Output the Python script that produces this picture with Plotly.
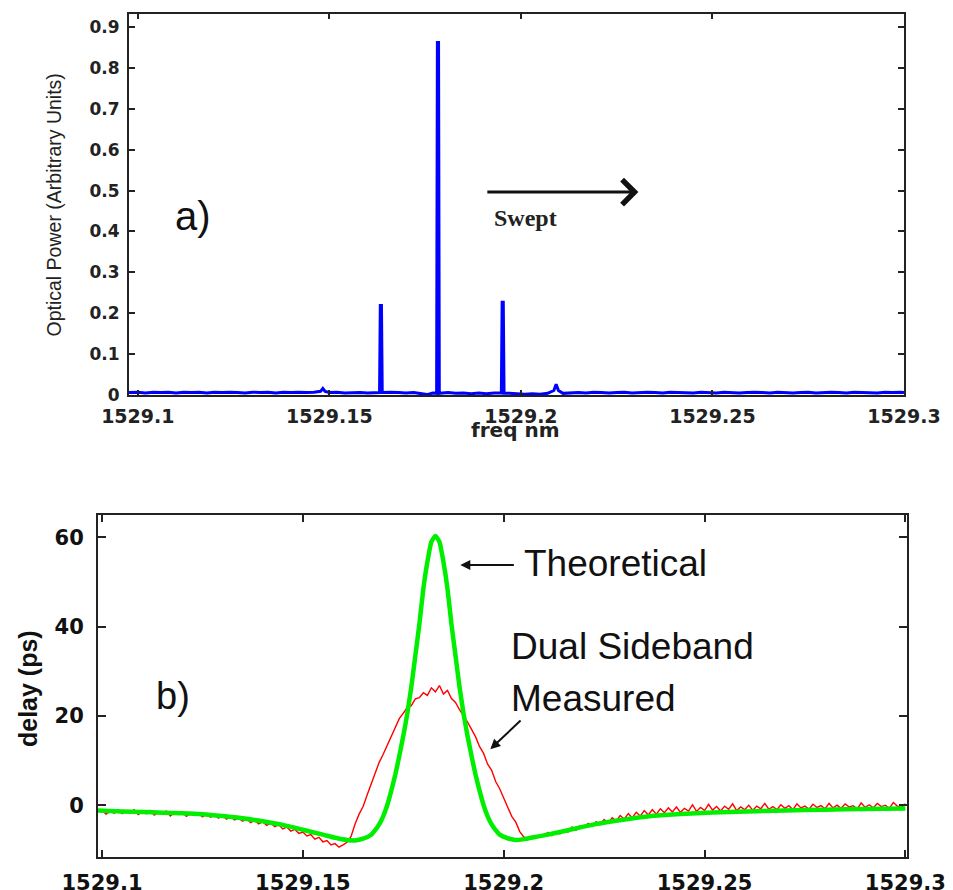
import plotly.graph_objects as go

# ---------------- Panel a) optical spectrum ----------------
spec_nm = [1529.0977, 1529.100, 1529.102, 1529.104, 1529.106, 1529.108, 1529.110, 1529.112, 1529.114, 1529.116,
           1529.118, 1529.120, 1529.122, 1529.124, 1529.126, 1529.128, 1529.130, 1529.132, 1529.134, 1529.136,
           1529.138, 1529.140, 1529.142, 1529.144, 1529.146, 1529.1477, 1529.1483, 1529.1489, 1529.150, 1529.152,
           1529.154, 1529.156, 1529.158, 1529.160, 1529.162, 1529.1631, 1529.1633, 1529.1636, 1529.1638, 1529.166,
           1529.168, 1529.170, 1529.172, 1529.174, 1529.1755, 1529.177, 1529.1780, 1529.1782, 1529.1785, 1529.1787,
           1529.181, 1529.183, 1529.185, 1529.187, 1529.189, 1529.191, 1529.193, 1529.1949, 1529.1951, 1529.1954,
           1529.1956, 1529.197, 1529.199, 1529.201, 1529.203, 1529.205, 1529.207, 1529.2086, 1529.2092, 1529.2098,
           1529.211, 1529.213, 1529.215, 1529.217, 1529.219, 1529.221, 1529.223, 1529.225, 1529.227, 1529.229,
           1529.231, 1529.233, 1529.235, 1529.237, 1529.239, 1529.241, 1529.243, 1529.245, 1529.247, 1529.249,
           1529.251, 1529.253, 1529.255, 1529.257, 1529.259, 1529.261, 1529.263, 1529.265, 1529.267, 1529.269,
           1529.271, 1529.273, 1529.275, 1529.277, 1529.279, 1529.281, 1529.283, 1529.285, 1529.287, 1529.289,
           1529.291, 1529.293, 1529.295, 1529.297, 1529.299, 1529.300]
spec_power = [0.006, 0.007, 0.005, 0.007, 0.006, 0.007, 0.005, 0.007, 0.006, 0.007,
              0.005, 0.007, 0.006, 0.007, 0.006, 0.005, 0.007, 0.006, 0.007, 0.005,
              0.007, 0.006, 0.007, 0.006, 0.007, 0.009, 0.016, 0.009, 0.006, 0.007,
              0.005, 0.006, 0.006, 0.005, 0.006, 0.006, 0.219, 0.219, 0.006, 0.007,
              0.006, 0.005, 0.006, 0.004, 0.001, 0.005, 0.004, 0.862, 0.862, 0.004,
              0.006, 0.004, 0.005, 0.003, 0.005, 0.003, 0.005, 0.005, 0.227, 0.227,
              0.004, 0.004, 0.003, 0.002, 0.003, 0.002, 0.004, 0.011, 0.026, 0.011,
              0.004, 0.005, 0.006, 0.005, 0.007, 0.006, 0.005, 0.006, 0.007, 0.005,
              0.006, 0.007, 0.006, 0.005, 0.007, 0.006, 0.006, 0.005, 0.007, 0.006,
              0.005, 0.007, 0.006, 0.005, 0.006, 0.007, 0.006, 0.005, 0.007, 0.006,
              0.005, 0.006, 0.007, 0.005, 0.006, 0.007, 0.006, 0.005, 0.007, 0.006,
              0.006, 0.005, 0.007, 0.006, 0.007, 0.006]

a_xticks = [1529.1, 1529.15, 1529.2, 1529.25, 1529.3]
a_xticklabels = ["1529.1", "1529.15", "1529.2", "1529.25", "1529.3"]
a_yticks = [0, 0.1, 0.2, 0.3, 0.4, 0.5, 0.6, 0.7, 0.8, 0.9]
a_yticklabels = ["0", "0.1", "0.2", "0.3", "0.4", "0.5", "0.6", "0.7", "0.8", "0.9"]

# ---------------- Panel b) group delay ----------------
theory_nm = [1529.099, 1529.105, 1529.110, 1529.115, 1529.120, 1529.125, 1529.130, 1529.135, 1529.140, 1529.145,
             1529.150, 1529.155, 1529.158, 1529.161, 1529.163, 1529.165, 1529.167, 1529.168, 1529.169, 1529.170,
             1529.171, 1529.172, 1529.173, 1529.174, 1529.175, 1529.176, 1529.177, 1529.178, 1529.179, 1529.180,
             1529.181, 1529.182, 1529.183, 1529.184, 1529.185, 1529.186, 1529.187, 1529.188, 1529.189, 1529.190,
             1529.191, 1529.192, 1529.193, 1529.194, 1529.195, 1529.196, 1529.197, 1529.198, 1529.199, 1529.201,
             1529.203, 1529.205, 1529.208, 1529.212, 1529.216, 1529.222, 1529.228, 1529.234, 1529.240, 1529.248,
             1529.256, 1529.265, 1529.275, 1529.285, 1529.300]
theory_delay = [-1.2, -1.4, -1.5, -1.7, -1.8, -2.0, -2.4, -2.9, -3.6, -4.4,
                -5.5, -6.6, -7.3, -7.8, -7.9, -7.5, -6.6, -5.6, -4.3, -2.5,
                0.0, 3.2, 6.8, 11.0, 15.5, 20.5, 26.5, 33.5, 40.5, 48.5,
                54.5, 59.0, 60.3, 59.0, 54.5, 48.5, 40.5, 33.5, 26.5, 20.5,
                15.5, 11.0, 6.8, 3.2, 0.0, -2.5, -4.3, -5.6, -6.6, -7.4,
                -7.8, -7.6, -7.1, -6.4, -5.6, -4.4, -3.5, -2.7, -2.2, -1.8,
                -1.5, -1.3, -1.1, -0.9, -0.75]

measured_nm = [
    1529.100, 1529.101, 1529.102, 1529.103, 1529.104, 1529.105, 1529.106, 1529.107, 1529.108, 1529.109,
    1529.110, 1529.111, 1529.112, 1529.113, 1529.114, 1529.115, 1529.116, 1529.117, 1529.118, 1529.119,
    1529.120, 1529.121, 1529.122, 1529.123, 1529.124, 1529.125, 1529.126, 1529.127, 1529.128, 1529.129,
    1529.130, 1529.131, 1529.132, 1529.133, 1529.134, 1529.135, 1529.136, 1529.137, 1529.138, 1529.139,
    1529.140, 1529.141, 1529.142, 1529.143, 1529.144, 1529.145, 1529.146, 1529.147, 1529.148, 1529.149,
    1529.150, 1529.151, 1529.152, 1529.153, 1529.154, 1529.155, 1529.156, 1529.157, 1529.158, 1529.159,
    1529.160, 1529.161, 1529.162, 1529.163, 1529.164, 1529.165, 1529.166, 1529.167, 1529.168, 1529.169,
    1529.170, 1529.171, 1529.172, 1529.173, 1529.174, 1529.175, 1529.176, 1529.177, 1529.178, 1529.179,
    1529.180, 1529.181, 1529.182, 1529.183, 1529.184, 1529.185, 1529.186, 1529.187, 1529.188, 1529.189,
    1529.190, 1529.191, 1529.192, 1529.193, 1529.194, 1529.195, 1529.196, 1529.197, 1529.198, 1529.199,
    1529.200, 1529.201, 1529.202, 1529.203, 1529.204, 1529.205, 1529.206, 1529.207, 1529.208, 1529.209,
    1529.210, 1529.211, 1529.212, 1529.213, 1529.214, 1529.215, 1529.216, 1529.217, 1529.218, 1529.219,
    1529.220, 1529.221, 1529.222, 1529.223, 1529.224, 1529.225, 1529.226, 1529.227, 1529.228, 1529.229,
    1529.230, 1529.231, 1529.232, 1529.233, 1529.234, 1529.235, 1529.236, 1529.237, 1529.238, 1529.239,
    1529.240, 1529.241, 1529.242, 1529.243, 1529.244, 1529.245, 1529.246, 1529.247, 1529.248, 1529.249,
    1529.250, 1529.251, 1529.252, 1529.253, 1529.254, 1529.255, 1529.256, 1529.257, 1529.258, 1529.259,
    1529.260, 1529.261, 1529.262, 1529.263, 1529.264, 1529.265, 1529.266, 1529.267, 1529.268, 1529.269,
    1529.270, 1529.271, 1529.272, 1529.273, 1529.274, 1529.275, 1529.276, 1529.277, 1529.278, 1529.279,
    1529.280, 1529.281, 1529.282, 1529.283, 1529.284, 1529.285, 1529.286, 1529.287, 1529.288, 1529.289,
    1529.290, 1529.291, 1529.292, 1529.293, 1529.294, 1529.295, 1529.296, 1529.297, 1529.298, 1529.299,
    1529.300]
measured_delay = [
    -1.2, -2.0, -1.4, -1.8, -1.1, -1.9, -1.3, -1.7, -1.0, -2.1,
    -1.5, -1.9, -1.2, -2.2, -1.6, -2.0, -1.3, -2.4, -1.7, -2.1,
    -1.6, -2.5, -1.9, -2.3, -1.8, -2.6, -2.0, -2.7, -2.2, -2.9,
    -2.3, -3.1, -2.6, -3.3, -2.9, -3.6, -3.1, -3.9, -3.4, -4.2,
    -3.7, -4.5, -4.0, -4.8, -4.4, -5.3, -4.9, -5.8, -5.4, -6.3,
    -6.0, -6.9, -6.6, -7.6, -7.2, -8.2, -7.9, -8.9, -8.6, -9.4,
    -8.9, -8.3, -7.0, -4.2, -2.0, -0.3, 2.3, 4.6, 6.9, 9.6,
    11.4, 13.5, 15.6, 17.3, 19.4, 20.6, 21.9, 22.3, 23.8, 24.1,
    25.2, 24.6, 26.3, 25.4, 26.8, 24.9, 25.7, 23.9, 23.0, 21.4,
    20.1, 18.6, 17.0, 15.3, 13.1, 11.6, 9.2, 7.8, 5.3, 3.7,
    1.6, -0.4, -2.5, -3.8, -5.9, -7.1, -7.7, -7.2, -7.4, -6.8,
    -6.9, -6.1, -6.8, -5.9, -6.4, -5.5, -6.0, -4.9, -5.6, -4.6,
    -5.0, -4.1, -4.8, -3.7, -4.3, -3.2, -4.0, -2.8, -3.5, -2.3,
    -3.1, -1.9, -2.8, -1.6, -2.4, -1.2, -2.2, -1.0, -2.0, -0.8,
    -1.7, -0.6, -1.5, -0.4, -1.6, -0.7, -1.3, 0.1, -1.4, -0.5,
    -1.2, 0.2, -1.1, -0.3, -1.3, -0.2, -0.9, 0.3, -1.2, -0.4,
    -1.0, 0.0, -1.1, -0.2, -0.8, 0.4, -0.9, -0.3, -1.0, 0.1,
    -0.7, -0.1, -1.0, 0.3, -0.6, -0.2, -0.9, 0.2, -0.5, -0.1,
    -0.8, 0.4, -0.6, 0.0, -0.7, 0.3, -0.4, -0.1, -0.8, 0.5,
    -0.5, 0.1, -0.6, 0.4, -0.3, 0.0, -0.7, 0.6, -0.2, -0.5,
    0.3]

b_xticks = [1529.1, 1529.15, 1529.2, 1529.25, 1529.3]
b_xticklabels = ["1529.1", "1529.15", "1529.2", "1529.25", "1529.3"]
b_yticks = [0, 20, 40, 60]
b_yticklabels = ["0", "20", "40", "60"]

W, H = 953, 890

fig = go.Figure()
fig.add_trace(go.Scatter(x=spec_nm, y=spec_power, mode="lines",
                         line=dict(color="#0000ff", width=3), xaxis="x", yaxis="y",
                         showlegend=False, hoverinfo="skip"))
fig.add_trace(go.Scatter(x=measured_nm, y=measured_delay, mode="lines",
                         line=dict(color="#ff0000", width=1.4), xaxis="x2", yaxis="y2",
                         showlegend=False, hoverinfo="skip"))
fig.add_trace(go.Scatter(x=theory_nm, y=theory_delay, mode="lines",
                         line=dict(color="#00ee00", width=4.5, shape="spline", smoothing=0.5),
                         xaxis="x2", yaxis="y2", showlegend=False, hoverinfo="skip"))

tick_font_a = dict(family="DejaVu Sans", size=19, color="#222222", weight="bold")
tick_font_a_y = dict(family="DejaVu Sans", size=17, color="#222222", weight="bold")
tick_font_b = dict(family="DejaVu Sans", size=21, color="#111111", weight="bold")

common = dict(showline=True, linecolor="#222222", linewidth=2, mirror="ticks",
              ticks="inside", tickcolor="#222222", tickwidth=1.5,
              showgrid=False, zeroline=False, automargin=False)

fig.update_layout(
    width=W, height=H,
    margin=dict(l=0, r=0, t=0, b=0),
    paper_bgcolor="white", plot_bgcolor="white",
    xaxis=dict(domain=[129 / W, 904 / W], anchor="y", range=[1529.0977, 1529.3],
               tickvals=a_xticks, ticktext=a_xticklabels, ticklen=5,
               tickfont=tick_font_a, ticklabelstandoff=3, **common),
    yaxis=dict(domain=[1 - 395 / H, 1 - 14 / H], anchor="x", range=[0, 0.932],
               tickvals=a_yticks, ticktext=a_yticklabels, ticklen=6,
               tickfont=tick_font_a_y, ticklabelstandoff=4, **common),
    xaxis2=dict(domain=[98 / W, 907 / W], anchor="y2", range=[1529.099, 1529.3004],
                tickvals=b_xticks, ticktext=b_xticklabels, ticklen=7,
                tickfont=tick_font_b, ticklabelstandoff=6, **common),
    yaxis2=dict(domain=[1 - 857 / H, 1 - 515 / H], anchor="x2", range=[-11.6, 65],
                tickvals=b_yticks, ticktext=b_yticklabels, ticklen=8,
                tickfont=tick_font_b, ticklabelstandoff=8, **common),
)

ann = []
# axis titles
ann.append(dict(text="Optical Power (Arbitrary Units)", xref="paper", yref="paper",
                x=54 / W, y=1 - 205.5 / H, textangle=-90, showarrow=False,
                xanchor="center", yanchor="middle",
                font=dict(family="Liberation Sans", size=19.5, color="#222222")))
ann.append(dict(text="freq nm", xref="paper", yref="paper",
                x=515 / W, y=1 - 430 / H, showarrow=False,
                xanchor="center", yanchor="middle",
                font=dict(family="DejaVu Sans", size=20, color="#222222", weight="bold")))
ann.append(dict(text="delay (ps)", xref="paper", yref="paper",
                x=27.5 / W, y=1 - 688.5 / H, textangle=-90, showarrow=False,
                xanchor="center", yanchor="middle",
                font=dict(family="Liberation Sans", size=25, color="#111111", weight="bold")))
# panel labels
ann.append(dict(text="a)", xref="x", yref="y", x=1529.11446, y=0.4377, showarrow=False,
                xanchor="center", yanchor="middle",
                font=dict(family="Liberation Sans", size=40, color="#111111")))
ann.append(dict(text="b)", xref="x2", yref="y2", x=1529.11775, y=24.55, showarrow=False,
                xanchor="center", yanchor="middle",
                font=dict(family="Liberation Sans", size=38, color="#111111")))
# swept arrow & label
ann.append(dict(text="", xref="x", yref="y", axref="x", ayref="y",
                x=1529.23067, y=0.4963, ax=1529.19085, ay=0.4963,
                showarrow=True, arrowhead=4, arrowsize=1.6, arrowwidth=3, arrowcolor="#111111"))
ann.append(dict(text="Swept", xref="x", yref="y", x=1529.20122, y=0.4328, showarrow=False,
                xanchor="center", yanchor="middle",
                font=dict(family="Liberation Serif", size=24, color="#222222", weight="bold")))
# bottom labels
ann.append(dict(text="Theoretical", xref="x2", yref="y2", x=1529.20464, y=54.15, showarrow=False,
                xanchor="left", yanchor="middle",
                font=dict(family="Liberation Sans", size=37, color="#111111")))
ann.append(dict(text="", xref="x2", yref="y2", axref="x2", ayref="y2",
                x=1529.1892, y=53.8, ax=1529.2029, ay=53.8,
                showarrow=True, arrowhead=2, arrowsize=1, arrowwidth=2, arrowcolor="#111111"))
ann.append(dict(text="Dual Sideband", xref="x2", yref="y2", x=1529.20141, y=35.54, showarrow=False,
                xanchor="left", yanchor="middle",
                font=dict(family="Liberation Sans", size=37, color="#111111")))
ann.append(dict(text="Measured", xref="x2", yref="y2", x=1529.20141, y=23.88, showarrow=False,
                xanchor="left", yanchor="middle",
                font=dict(family="Liberation Sans", size=37, color="#111111")))
ann.append(dict(text="", xref="x2", yref="y2", axref="x2", ayref="y2",
                x=1529.19667, y=12.56, ax=1529.20457, ay=19.28,
                showarrow=True, arrowhead=2, arrowsize=1, arrowwidth=2, arrowcolor="#111111"))

fig.update_layout(annotations=ann)
fig.write_html("out.html", config={"displayModeBar": False},
               post_script="document.body.style.margin='0';document.body.style.overflow='hidden';")
